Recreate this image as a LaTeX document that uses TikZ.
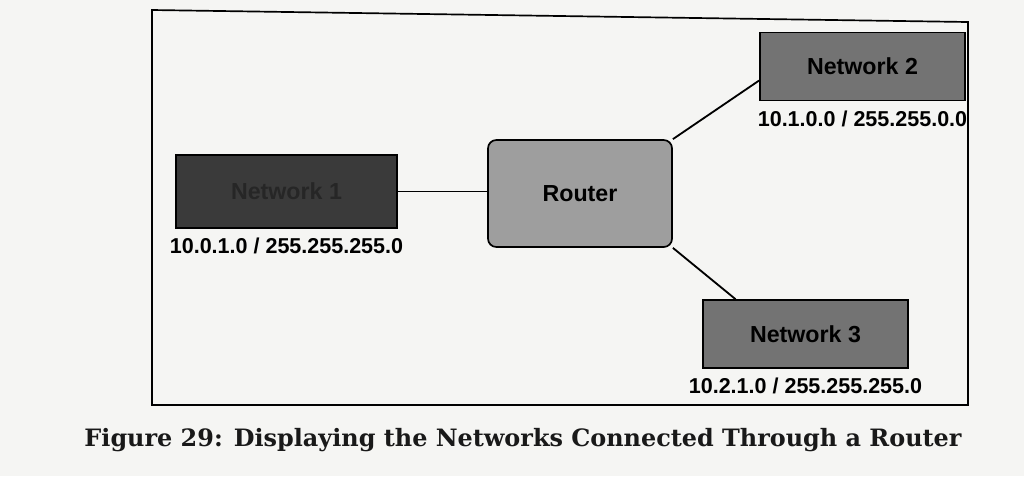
\documentclass[tikz,border=0pt]{standalone}
\usepackage{fontspec}
\setmainfont{Liberation Sans}
\newfontfamily\capfont{DejaVu Serif}
\usepackage{xcolor}
\usetikzlibrary{positioning}

\definecolor{paper}{HTML}{F5F5F3}
\definecolor{netdark}{HTML}{3A3A3A}
\definecolor{netgray}{HTML}{737373}
\definecolor{routergray}{HTML}{9E9E9E}

\tikzset{
	netbox/.style={draw=black, line width=1.2pt, fill=netgray, minimum width=5.125cm, minimum height=1.7cm, font=\fontsize{16.5}{18}\selectfont\bfseries, inner sep=0pt},
	addr/.style={font=\fontsize{15.3}{17}\selectfont\bfseries, inner sep=0pt},
	link/.style={line width=1.3pt}
}

\begin{document}
\begin{tikzpicture}[x=0.025cm, y=-0.025cm]
			\useasboundingbox[fill=paper] (0, 0) rectangle (1024, 476);
			
			% Frame
			\draw[line width=1.2pt] (152, 10) -- (968, 22) -- (968, 405) -- (152, 405) -- cycle;
			
			% Networks and router
			\node[netbox, fill=netdark, text=black!85, minimum width=5.525cm, minimum height=1.825cm] (net1) at (286.5, 191.5) {Network 1};
			\node[netbox, fill=routergray, rounded corners=6pt, minimum width=4.6cm, minimum height=2.675cm] (router) at (580, 193.5) {Router};
			\node[netbox] (net2) at (862.5, 66.5) {Network 2};
			\node[netbox] (net3) at (805.5, 334) {Network 3};
			
			% Addresses
			\node[addr, below=0.22cm of net1] (addr1) {10.0.1.0 / 255.255.255.0};
			\node[addr, below=0.22cm of net2] (addr2) {10.1.0.0 / 255.255.0.0};
			\node[addr, below=0.22cm of net3] (addr3) {10.2.1.0 / 255.255.255.0};
			
			% Links
			\draw[link] (net1.east) -- (router.west |- net1.east);
			\draw[link] (router.north east) -- ([yshift=-0.35cm]net2.west);
			\draw[link] (router.south east) -- ([xshift=-1.75cm]net3.north);
			
			% Caption
			\node[font=\capfont\fontsize{17}{20}\selectfont\bfseries, text=black!90] (caption) at (523, 440) {Figure 29: Displaying the Networks Connected Through a Router};
		\end{tikzpicture}
\end{document}
